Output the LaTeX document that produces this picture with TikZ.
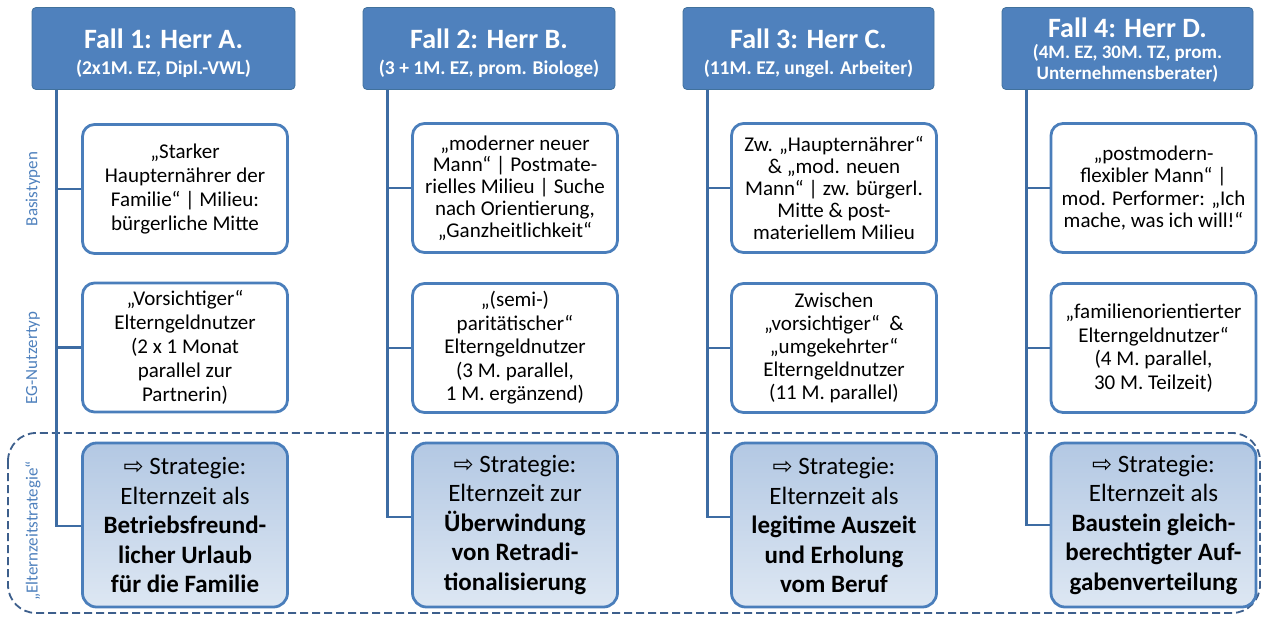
\documentclass[tikz,border=0pt]{standalone}
\usepackage{fontspec}
\setmainfont{Carlito}
\newfontfamily\symfont{DejaVu Sans}
\usetikzlibrary{calc}
\definecolor{hdrfill}{HTML}{4F81BD}
\definecolor{hdrline}{HTML}{41719C}
\definecolor{boxline}{HTML}{4A7EBB}
\definecolor{conncol}{HTML}{3D6CA3}
\definecolor{dashcol}{HTML}{3D5F8C}
\definecolor{stratop}{HTML}{B3C8E3}
\definecolor{stratbot}{HTML}{DDE7F3}
\definecolor{lblcol}{HTML}{4F81BD}
\newcommand{\stratarrow}{{\symfont\fontsize{24}{24}\selectfont ⇨}}
\begin{document}
\begin{tikzpicture}[x=1pt,y=-1pt,
  headbox/.style={rectangle, rounded corners=4pt, fill=hdrfill, draw=hdrline, line width=0.8pt,
    minimum width=251pt, minimum height=82pt, inner sep=0pt},
  headtext/.style={text=white, align=center, inner sep=0pt, font=\bfseries\fontsize{19.5}{26}\selectfont},
  infobox/.style={rectangle, rounded corners=12pt, draw=boxline, line width=2.8pt, fill=white,
    minimum width=205pt, minimum height=129pt, align=center, inner sep=0pt,
    font=\fontsize{21}{24}\selectfont},
  stratbox/.style={rectangle, rounded corners=14pt, draw=boxline, line width=2.8pt,
    top color=stratop, bottom color=stratbot, minimum width=205pt, minimum height=164pt,
    align=center, inner sep=0pt, font=\fontsize{25}{29.5}\selectfont},
  connline/.style={draw=conncol, line width=2.8pt},
  sidelabel/.style={rotate=90, text=lblcol, font=\fontsize{17}{20}\selectfont, inner sep=0pt},
  dashframe/.style={draw=dashcol, line width=1.8pt, dash pattern=on 8pt off 4pt, rounded corners=28pt},
]
\useasboundingbox (0,0) rectangle (1263,616);

% dashed frame around strategy row
\draw[dashframe] (8,433) rectangle (1260,613);

% side labels
\node[sidelabel] (lb1) at (33,189) {Basistypen};
\node[sidelabel] (lb2) at (33,358) {EG-Nutzertyp};
\node[sidelabel] (lb3) at (33,531) {„Elternzeitstrategie“};

% headers
\node[headbox, minimum width=263pt] (h1) at (163.5,48.5) {};
\node[headbox, minimum width=252pt] (h2) at (489,48.5) {};
\node[headbox] (h3) at (808.5,48.5) {};
\node[headbox] (h4) at (1127.5,48.5) {};

\node[headtext] (t1) at (163.5,53) {\fontsize{28}{33}\selectfont Fall 1: Herr A.\\ (2x1M. EZ, Dipl.-VWL)};
\node[headtext] (t2) at (489,53) {\fontsize{28}{33}\selectfont Fall 2: Herr B.\\ (3 + 1M. EZ, prom. Biologe)};
\node[headtext] (t3) at (808.5,53) {\fontsize{28}{33}\selectfont Fall 3: Herr C.\\ (11M. EZ, ungel. Arbeiter)};
\node[headtext, font=\bfseries\fontsize{19}{21}\selectfont] (t4) at (1127.5,50.5) {\fontsize{28}{33}\selectfont Fall 4: Herr D.\\ (4M. EZ, 30M. TZ, prom.\\ Unternehmensberater)};

% column 1
\node[infobox] (a1) at (185,189) {„Starker\\ Haupternährer der\\ Familie“ | Milieu:\\ bürgerliche Mitte};
\node[infobox] (a2) at (185,347.5) {„Vorsichtiger“\\ Elterngeldnutzer\\ (2 x 1 Monat\\ parallel zur\\ Partnerin)};
\node[stratbox] (a3) at (185,525) {\stratarrow{} Strategie:\\ Elternzeit als\\ \textbf{Betriebsfreund-}\\ \textbf{licher Urlaub}\\ \textbf{für die Familie}};

% column 2
\node[infobox, font=\fontsize{21}{21.8}\selectfont] (b1) at (515,188) {„moderner neuer\\ Mann“ | Postmate-\\ rielles Milieu | Suche\\ nach Orientierung,\\ „Ganzheitlichkeit“};
\node[infobox, font=\fontsize{21}{23.5}\selectfont] (b2) at (515,348) {„(semi-)\\ paritätischer“\\ Elterngeldnutzer\\ (3 M. parallel,\\ 1 M. ergänzend)};
\node[stratbox] (b3) at (515,525) {\stratarrow{} Strategie:\\ Elternzeit zur\\ \textbf{Überwindung}\\ \textbf{von Retradi-}\\ \textbf{tionalisierung}};

% column 3
\node[infobox, font=\fontsize{21}{22}\selectfont] (c1) at (834,188) {Zw. „Haupternährer“\\ \& „mod. neuen\\ Mann“ | zw. bürgerl.\\ Mitte \& post-\\ materiellem Milieu};
\node[infobox, font=\fontsize{21}{23}\selectfont] (c2) at (834,348) {Zwischen\\ „vorsichtiger“ \ \&\\ „umgekehrter“\\ Elterngeldnutzer\\ (11 M. parallel)};
\node[stratbox] (c3) at (834,525) {\stratarrow{} Strategie:\\ Elternzeit als\\ \textbf{legitime Auszeit}\\ \textbf{und Erholung}\\ \textbf{vom Beruf}};

% column 4
\node[infobox, font=\fontsize{21}{22.5}\selectfont] (d1) at (1153.5,188) {„postmodern-\\ flexibler Mann“ |\\ mod. Performer: „Ich\\ mache, was ich will!“};
\node[infobox, font=\fontsize{21}{23.5}\selectfont] (d2) at (1153.5,348) {„familienorientierter\\ Elterngeldnutzer“\\ (4 M. parallel,\\ 30 M. Teilzeit)};
\node[stratbox] (d3) at (1153.5,525) {\stratarrow{} Strategie:\\ Elternzeit als\\ \textbf{Baustein gleich-}\\ \textbf{berechtigter Auf-}\\ \textbf{gabenverteilung}};

% connectors
\foreach \h/\p/\q/\r/\dy in {h1/a1/a2/a3/1, h2/b1/b2/b3/-8, h3/c1/c2/c3/-8, h4/d1/d2/d3/0}{
  \coordinate (v-\h) at ($(\h.south west)+(24.5,0)$);
  \draw[connline] (v-\h) |- ($(\r.west)+(0,\dy)$);
  \draw[connline] (v-\h |- \p.west) -- (\p.west);
  \draw[connline] (v-\h |- \q.west) -- (\q.west);
}
\end{tikzpicture}
\end{document}
